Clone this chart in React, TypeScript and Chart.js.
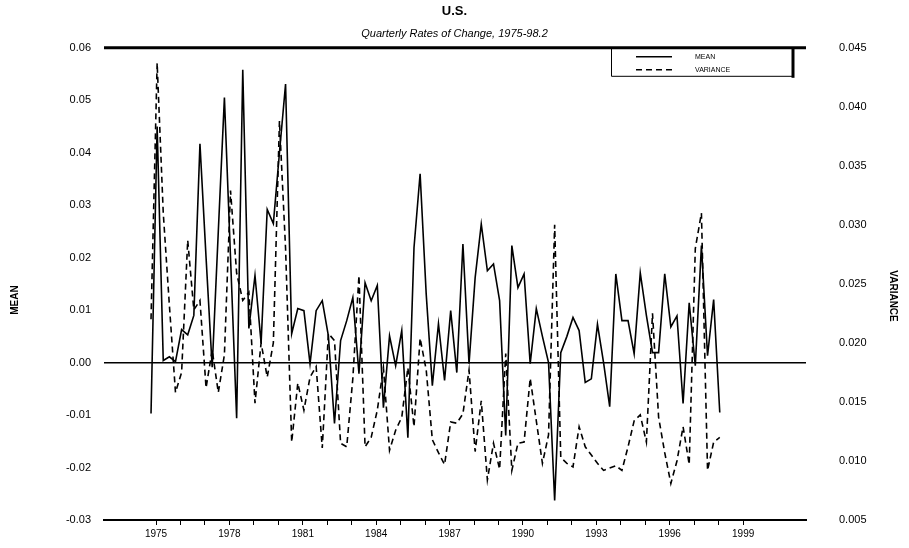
import React, { useEffect, useRef } from "react";
import { Chart, registerables } from "chart.js";

Chart.register(...registerables);

const TITLE = "U.S.";
const SUBTITLE = "Quarterly Rates of Change, 1975-98.2";
const LEFT_TITLE = "MEAN";
const RIGHT_TITLE = "VARIANCE";

// Quarterly observations, 1975Q1 .. 1998Q2
const MEAN = [
  -0.0097, 0.045, 0.0004, 0.0011, 0.0002, 0.0063, 0.0053, 0.009, 0.0417, 0.02,
  -0.0009, 0.025, 0.0505, 0.02, -0.0106, 0.0558, 0.0065, 0.0166, 0.0037, 0.0292,
  0.0265, 0.04, 0.0531, 0.0055, 0.0103, 0.0099, -0.0002, 0.0099, 0.0118, 0.0051,
  -0.0116, 0.0042, 0.008, 0.0124, -0.0021, 0.0152, 0.0118, 0.0147, -0.0086, 0.0051,
  -0.0006, 0.0061, -0.0143, 0.0219, 0.036, 0.013, -0.0044, 0.0074, -0.0034, 0.0099,
  -0.0019, 0.0226, -0.0002, 0.0162, 0.0264, 0.0175, 0.0188, 0.0118, -0.0139, 0.0223,
  0.0143, 0.0169, -0.0002, 0.0103, 0.005, 0.0, -0.0263, 0.0019, 0.005, 0.0086,
  0.0061, -0.0038, -0.0031, 0.0073, 0.0, -0.0084, 0.0169, 0.008, 0.008, 0.0017,
  0.0171, 0.009, 0.0019, 0.0019, 0.0169, 0.0068, 0.0089, -0.0078, 0.0114, -0.0006,
  0.0223, 0.0013, 0.012, -0.0095,
];

const VARIANCE = [
  0.022, 0.0437, 0.031, 0.0232, 0.0158, 0.0175, 0.0287, 0.0228, 0.0236, 0.0162,
  0.0194, 0.0158, 0.019, 0.0329, 0.0259, 0.0236, 0.0243, 0.0149, 0.02, 0.0171,
  0.02, 0.0388, 0.028, 0.0116, 0.0166, 0.0143, 0.0171, 0.018, 0.0111, 0.0208,
  0.0202, 0.0115, 0.0112, 0.017, 0.0257, 0.0112, 0.012, 0.0143, 0.0179, 0.0109,
  0.0126, 0.0137, 0.0179, 0.0129, 0.0204, 0.0177, 0.0118, 0.0107, 0.0097, 0.0133,
  0.0132, 0.014, 0.0177, 0.0108, 0.0151, 0.0084, 0.0115, 0.0093, 0.0191, 0.0092,
  0.0115, 0.0116, 0.017, 0.0134, 0.0098, 0.0122, 0.03, 0.0103, 0.0098, 0.0095,
  0.0129, 0.0112, 0.0105, 0.0098, 0.0092, 0.0094, 0.0096, 0.0092, 0.0112, 0.0134,
  0.0139, 0.0116, 0.0225, 0.0137, 0.0107, 0.0081, 0.01, 0.0129, 0.0097, 0.028,
  0.031, 0.0092, 0.0116, 0.012,
];

const TICK_YEARS = [
  1975, 1976, 1977, 1978, 1979, 1980, 1981, 1982, 1983, 1984, 1985, 1986, 1987,
  1988, 1989, 1990, 1991, 1992, 1993, 1994, 1995, 1996, 1997, 1998, 1999,
];
const LABEL_YEARS = [1975, 1978, 1981, 1984, 1987, 1990, 1993, 1996, 1999];

const FIRST_YEAR = 1975;
const PER_YEAR = 4;
const TICK_OFFSET = 0.82;
const X_MIN = -7.69;
const X_MAX = 107.1;

const yearPos = (y: number) => TICK_OFFSET + PER_YEAR * (y - FIRST_YEAR);

const FONT = "'Liberation Sans', Arial, sans-serif";

const framePlugin = {
  id: "frame",
  afterDraw(chart: any) {
    const { ctx, chartArea } = chart;
    const { left, right, top } = chartArea;
    ctx.save();
    ctx.strokeStyle = "#000";
    ctx.fillStyle = "#000";
    // top border
    ctx.lineWidth = 3;
    ctx.beginPath();
    ctx.moveTo(left, top);
    ctx.lineTo(right, top);
    ctx.stroke();

    // legend box
    const bx0 = right - 195;
    const bx1 = right - 13;
    const by0 = top;
    const by1 = top + 28;
    ctx.lineWidth = 1;
    ctx.beginPath();
    ctx.moveTo(bx0 + 0.5, by0);
    ctx.lineTo(bx0 + 0.5, by1 + 0.5);
    ctx.lineTo(bx1, by1 + 0.5);
    ctx.stroke();
    ctx.lineWidth = 3;
    ctx.beginPath();
    ctx.moveTo(bx1, by0);
    ctx.lineTo(bx1, by1 + 2);
    ctx.stroke();

    const ds = chart.data.datasets;
    const rows = [top + 9, top + 22];
    ds.forEach((d: any, i: number) => {
      ctx.lineWidth = 1.5;
      ctx.setLineDash(d.borderDash || []);
      ctx.beginPath();
      ctx.moveTo(bx0 + 25, rows[i]);
      ctx.lineTo(bx0 + 61, rows[i]);
      ctx.stroke();
      ctx.setLineDash([]);
      ctx.font = `7px ${FONT}`;
      ctx.textAlign = "left";
      ctx.textBaseline = "middle";
      ctx.fillText(d.label, bx0 + 84, rows[i]);
    });

    // axis titles
    ctx.font = `bold 10px ${FONT}`;
    ctx.textAlign = "center";
    ctx.textBaseline = "middle";
    ctx.save();
    ctx.translate(15, 300);
    ctx.rotate(-Math.PI / 2);
    ctx.fillText(LEFT_TITLE, 0, 0);
    ctx.restore();
    ctx.save();
    ctx.translate(893, 296);
    ctx.rotate(Math.PI / 2);
    ctx.fillText(RIGHT_TITLE, 0, 0);
    ctx.restore();
    ctx.restore();
  },
};

export default function App() {
  const ref = useRef<HTMLCanvasElement | null>(null);

  useEffect(() => {
    if (!ref.current) return;
    const chart = new Chart(ref.current, {
      type: "line",
      data: {
        datasets: [
          {
            label: "MEAN",
            data: MEAN.map((v, i) => ({ x: i, y: v })),
            yAxisID: "y",
            borderColor: "#000",
            borderWidth: 1.6,
            pointRadius: 0,
            tension: 0,
            fill: false,
          },
          {
            label: "VARIANCE",
            data: VARIANCE.map((v, i) => ({ x: i, y: v })),
            yAxisID: "y1",
            borderColor: "#000",
            borderWidth: 1.6,
            borderDash: [6, 4],
            pointRadius: 0,
            tension: 0,
            fill: false,
          },
        ],
      },
      options: {
        responsive: false,
        animation: false,
        devicePixelRatio: 1,
        layout: { padding: { top: 0, bottom: 0, left: 0, right: 0 } },
        plugins: {
          legend: { display: false },
          tooltip: { enabled: false },
          title: {
            display: true,
            text: TITLE,
            color: "#000",
            font: { family: FONT, size: 13, weight: "bold" },
            padding: { top: 4, bottom: 4 },
          },
          subtitle: {
            display: true,
            text: SUBTITLE,
            color: "#000",
            font: { family: FONT, size: 11, style: "italic" },
            padding: { top: 4, bottom: 7 },
          },
        },
        scales: {
          x: {
            type: "linear",
            min: X_MIN,
            max: X_MAX,
            afterBuildTicks: (scale: any) => {
              scale.ticks = TICK_YEARS.map((y) => ({ value: yearPos(y) }));
            },
            afterFit: (scale: any) => {
              scale.height = 28;
            },
            ticks: {
              autoSkip: false,
              maxRotation: 0,
              color: "#000",
              font: { family: FONT, size: 10 },
              padding: 3,
              callback: (_v: any, idx: number) => {
                const yr = TICK_YEARS[idx];
                return LABEL_YEARS.includes(yr) ? String(yr) : "";
              },
            },
            grid: {
              display: true,
              drawOnChartArea: false,
              drawTicks: true,
              tickLength: 5,
              color: "#000",
              lineWidth: 1,
            },
            border: { display: true, color: "#000", width: 2 },
          },
          y: {
            type: "linear",
            position: "left",
            min: -0.03,
            max: 0.06,
            afterFit: (scale: any) => {
              scale.width = 104;
              scale.paddingTop = 6;
              scale.paddingBottom = 6;
            },
            ticks: {
              stepSize: 0.01,
              color: "#000",
              font: { family: FONT, size: 11 },
              padding: 13,
              callback: (v: any) => Number(v).toFixed(2),
            },
            grid: {
              drawTicks: false,
              color: (c: any) =>
                c.tick && Math.abs(c.tick.value) < 1e-9 ? "#000" : "rgba(0,0,0,0)",
              lineWidth: 1.5,
            },
            border: { display: false },
          },
          y1: {
            type: "linear",
            position: "right",
            min: 0.005,
            max: 0.045,
            afterFit: (scale: any) => {
              scale.width = 103;
              scale.paddingTop = 6;
              scale.paddingBottom = 6;
            },
            ticks: {
              stepSize: 0.005,
              color: "#000",
              font: { family: FONT, size: 11 },
              padding: 33,
              callback: (v: any) => Number(v).toFixed(3),
            },
            grid: { display: false, drawTicks: false },
            border: { display: false },
          },
        },
      },
      plugins: [framePlugin],
    } as any);
    return () => chart.destroy();
  }, []);

  return (
    <div style={{ position: "fixed", left: 0, top: 0, width: 909, height: 548, background: "#fff" }}>
      <canvas ref={ref} width={909} height={548} style={{ display: "block" }} />
    </div>
  );
}
